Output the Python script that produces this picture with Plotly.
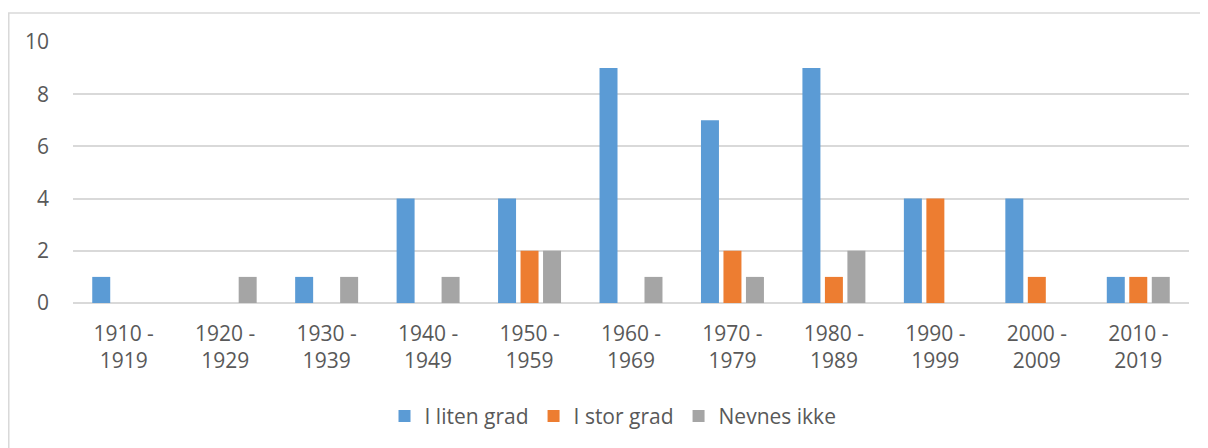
import plotly.graph_objects as go

categories = ["1910 -<br>1919", "1920 -<br>1929", "1930 -<br>1939", "1940 -<br>1949",
              "1950 -<br>1959", "1960 -<br>1969", "1970 -<br>1979", "1980 -<br>1989",
              "1990 -<br>1999", "2000 -<br>2009", "2010 -<br>2019"]
liten = [1, 0, 1, 4, 4, 9, 7, 9, 4, 4, 1]
stor = [0, 0, 0, 0, 2, 0, 2, 1, 4, 1, 1]
nevnes = [0, 1, 1, 1, 2, 1, 1, 2, 0, 0, 1]

names = ["I liten grad", "I stor grad", "Nevnes ikke"]
colors = ["#5B9BD5", "#ED7D31", "#A5A5A5"]

fig = go.Figure()
for name, vals, c in zip(names, [liten, stor, nevnes], colors):
    fig.add_trace(go.Bar(x=categories, y=vals, name=name, marker_color=c,
                         marker_line_width=0))

# The page body adds an 8px offset, so the figure is 1200x440.
W, H = 1200, 440
L, R, T, B = 65, 18.5, 34, 144.5
pw, ph = W - L - R, H - T - B

def px_x(x):
    return (x - L) / pw

def px_y(y):
    return (T + ph - y) / ph

fig.update_layout(
    width=W, height=H,
    margin=dict(l=L, r=R, t=T, b=B, autoexpand=False),
    paper_bgcolor="white", plot_bgcolor="white",
    barmode="group", bargap=0.335, bargroupgap=0.2,
    font=dict(family="Open Sans, sans-serif", size=21, color="#595959"),
    showlegend=True,
    legend=dict(orientation="h", x=0.5 - 18 / pw, xanchor="center", y=px_y(409),
                yanchor="middle", font=dict(size=21, color="#595959"), itemwidth=30),
    xaxis=dict(showgrid=False, showline=False, ticks="", tickfont=dict(size=21),
               ticklabelstandoff=16, automargin=False),
    yaxis=dict(range=[0, 10], dtick=2, showgrid=True, gridcolor="#D9D9D9", gridwidth=1.5,
               zeroline=True, zerolinecolor="#D9D9D9", zerolinewidth=1.5,
               showline=False, ticks="", tickfont=dict(size=21), ticklabelstandoff=23,
               automargin=False),
    shapes=[dict(type="rect", xref="paper", yref="paper",
                 x0=px_x(0.75), x1=px_x(W + 5),
                 y0=px_y(H + 5), y1=px_y(5),
                 line=dict(color="#D9D9D9", width=1.5), fillcolor="rgba(0,0,0,0)")],
)

fig.write_html("out.html")
